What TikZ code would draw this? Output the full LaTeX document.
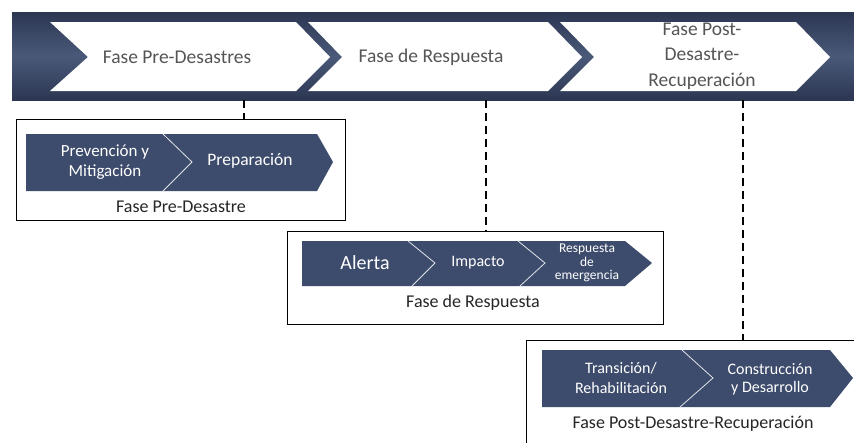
\documentclass[tikz,border=0pt]{standalone}
\usepackage{fontspec}
\setmainfont{Carlito}
\definecolor{navy}{HTML}{2B3652}
\definecolor{navyl}{HTML}{4A5979}
\definecolor{arrowc}{HTML}{3D4C6C}
\definecolor{txtgray}{HTML}{555555}
\begin{document}
\begin{tikzpicture}[x=1pt,y=-1pt,
  boxst/.style={draw=black, line width=1pt, inner sep=0pt},
  toptext/.style={text=txtgray, align=center, font=\fontsize{19.5}{25.5}\selectfont},
  intext/.style={text=white, align=center},
  labeltext/.style={text=black!85, font=\fontsize{18}{20}\selectfont},
  sepline/.style={draw=white!85!arrowc, line width=0.8pt},
  dashline/.style={draw=black, line width=1.8pt, dash pattern=on 8pt off 5pt}]
\useasboundingbox (0,0) rectangle (854,442);
\fill[white] (0,0) rectangle (854,442);

% top band
\shade[top color=navy, bottom color=navy, middle color=navyl] (12,12) rectangle (856,100);
\fill[white] (50,22) -- (296,22) -- (330,57) -- (296,91) -- (50,91) -- (88,57) -- cycle;
\fill[white] (308,22) -- (548,22) -- (582,57) -- (548,91) -- (308,91) -- (342,57) -- cycle;
\fill[white] (560,22) -- (796,22) -- (830,57) -- (796,91) -- (560,91) -- (594,57) -- cycle;
\node[toptext] (p1) at (177,57) {Fase Pre-Desastres};
\node[toptext] (p2) at (431,57) {Fase de Respuesta};
\node[toptext] (p3) at (702,56) {Fase Post-\\Desastre-\\Recuperación};

% boxes
\node[boxst, minimum width=329pt, minimum height=101pt] (b1) at (180.5,169.5) {};
\node[boxst, minimum width=376pt, minimum height=93pt] (b2) at (475,277.5) {};
\node[boxst, minimum width=340pt, minimum height=110pt] (b3) at (696,395) {};

% dashed connectors
\coordinate (t1) at (244,100);
\coordinate (t2) at (486,100);
\coordinate (t3) at (743,100);
\draw[dashline] (t1) -- (t1 |- b1.north);
\draw[dashline] (t2) -- (t2 |- b2.north);
\draw[dashline] (t3) -- (t3 |- b3.north);

% inner arrow 1
\fill[arrowc] (26,134) -- (317,134) -- (333,162) -- (317,191) -- (26,191) -- cycle;
\draw[sepline] (163,134) -- (192,162) -- (163,191);
\node[intext, font=\fontsize{17}{20}\selectfont] (a11) at (105,162) {Prevención y\\Mitigación};
\node[intext, font=\fontsize{17.5}{20}\selectfont] (a12) at (250,161) {Preparación};
\node[labeltext] (l1) at (181,207) {Fase Pre-Desastre};

% inner arrow 2
\fill[arrowc] (302,241) -- (625,241) -- (652,263) -- (625,286) -- (302,286) -- cycle;
\draw[sepline] (408,241) -- (435,263) -- (412,286);
\draw[sepline] (518,241) -- (545,263) -- (520,286);
\node[intext, font=\fontsize{20}{22}\selectfont] (a21) at (365,263) {Alerta};
\node[intext, font=\fontsize{16}{18}\selectfont] (a22) at (478,263) {Impacto};
\node[intext, font=\fontsize{13.5}{13.5}\selectfont] (a23) at (587,263) {Respuesta\\de\\emergencia};
\node[labeltext] (l2) at (473,303) {Fase de Respuesta};

% inner arrow 3
\fill[arrowc] (542,350) -- (830,350) -- (853,378) -- (830,407) -- (542,407) -- cycle;
\draw[sepline] (682,350) -- (713,378) -- (680,407);
\node[intext, font=\fontsize{16}{20}\selectfont] (a31) at (621,378) {Transición/\\Rehabilitación};
\node[intext, font=\fontsize{16}{18}\selectfont] (a32) at (770,379) {Construcción\\y Desarrollo};
\node[labeltext] (l3) at (693,424) {Fase Post-Desastre-Recuperación};
\end{tikzpicture}
\end{document}
